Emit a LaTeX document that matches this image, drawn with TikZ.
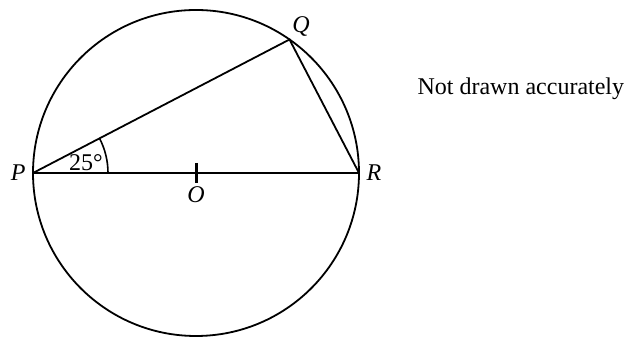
\documentclass[tikz,border=0pt]{standalone}
\usepackage{fontspec}
\setmainfont{Liberation Serif}
\usetikzlibrary{positioning,angles}

\begin{document}
\begin{tikzpicture}[
 x=0.5pt,y=-0.5pt,
 line width=0.9pt,
 lbl/.style={font=\fontsize{12}{14}\selectfont\itshape},
 txt/.style={font=\fontsize{12}{14}\selectfont}
]
\useasboundingbox (0,0) rectangle (626,340);
\coordinate (O) at (196,173);
\coordinate (P) at (33,173);
\coordinate (R) at (359,173);
\coordinate (Q) at (289.5,39.5);
\coordinate (Ot) at (196,163);
\coordinate (Ob) at (196,183);
\draw (O) circle[radius=81.5pt];
\draw (P) -- (R);
\draw (P) -- (Q) -- (R);
\draw[line width=1.5pt] (Ot) -- (Ob);
\pic[draw,line width=0.8pt,angle radius=37.5pt] {angle=R--P--Q};
\node[lbl,left=0pt of P] (lP) {P};
\node[lbl,anchor=south west,inner sep=1pt] (lQ) at (Q) {Q};
\node[lbl,right=0pt of R] (lR) {R};
\node[lbl,below=-2pt of Ob] (lO) {O};
\node[txt] (ang) at (86,163) {25°};
\node[txt,anchor=base west] (note) at (410,95) {Not drawn accurately};
\end{tikzpicture}
\end{document}
